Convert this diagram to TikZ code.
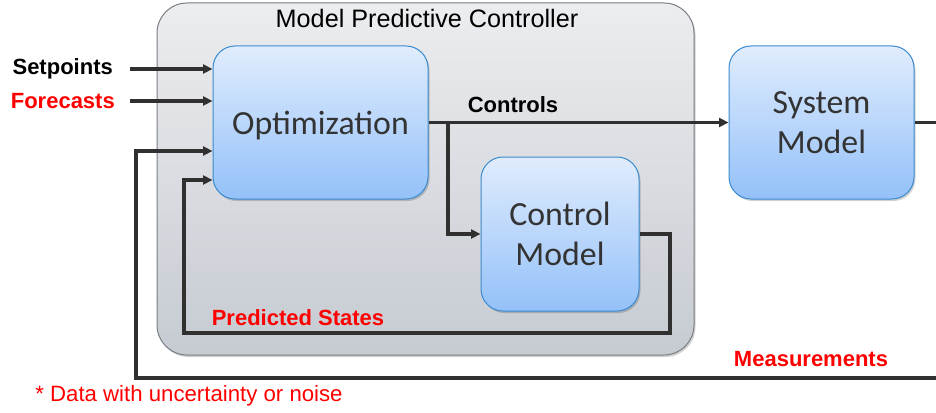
\documentclass[tikz,border=0pt]{standalone}
\usepackage{fontspec}
\setmainfont{Liberation Sans}
\newfontfamily\boxfont{Carlito}
\usetikzlibrary{arrows.meta,shadows}

\definecolor{bluetop}{HTML}{E0ECFD}
\definecolor{bluebot}{HTML}{94C1F9}
\definecolor{blueedge}{HTML}{3A8BD0}
\definecolor{graytop}{HTML}{ECEDEF}
\definecolor{graybot}{HTML}{C6CBD2}
\definecolor{grayedge}{HTML}{7A7D82}
\definecolor{wire}{HTML}{303030}
\definecolor{txtgray}{HTML}{333333}
\definecolor{labred}{HTML}{FF0000}

\tikzset{
  x=1pt, y=-1pt,
  block/.style={rectangle, rounded corners=22pt, draw=blueedge, line width=1pt,
    top color=bluetop, bottom color=bluebot, text=txtgray, align=center,
    font=\boxfont\fontsize{33.8}{40}\selectfont,
    drop shadow={shadow xshift=1.5pt, shadow yshift=-2pt, opacity=0.18, fill=black}},
  frame/.style={rectangle, rounded corners=30pt, draw=grayedge, line width=1pt,
    top color=graytop, bottom color=graybot,
    drop shadow={shadow xshift=1.5pt, shadow yshift=-2pt, opacity=0.18, fill=black}},
  wireline/.style={draw=wire, line width=3.2pt},
  arr/.style={wireline, -{Triangle[length=9.5pt,width=9pt]}},
  lab/.style={font=\bfseries\fontsize{22}{26}\selectfont, inner sep=0pt},
  note/.style={font=\fontsize{22.2}{26}\selectfont, inner sep=0pt},
}

\begin{document}
\begin{tikzpicture}
\useasboundingbox (0,0) rectangle (936,412);
\clip (0,0) rectangle (936,412);

% controller frame
\node[frame, minimum width=537pt, minimum height=352pt] (mpc) at (425.5,179) {};
\node[font=\fontsize{25.2}{30}\selectfont, inner sep=0pt, text=black] (title) at (427,18) {Model Predictive Controller};

% blocks
\node[block, text depth=0pt, minimum width=215pt, minimum height=153pt] (opt) at (320.5,122.5) {Optimization};
\node[block, minimum width=158pt, minimum height=154pt] (cm) at (560,234) {Control\\Model};
\node[block, minimum width=185pt, minimum height=153pt] (sm) at (821.5,122.5) {System\\Model};

% inputs
\node[lab, anchor=east, text=black] (sp) at (113,69) {Setpoints};
\node[lab, anchor=east, text=labred] (fc) at (115,101) {Forecasts};
\coordinate (spS) at (130,69);
\coordinate (fcS) at (130,101);
\draw[arr] (spS) -- (opt.west |- spS);
\draw[arr] (fcS) -- (opt.west |- fcS);

% controls
\draw[arr] (opt.east) -- (sm.west);
\coordinate (br) at (448,122.5);
\draw[arr] (br) |- (cm.west);
\node[lab, text=black] (ctl) at (513,105) {Controls};

% system output
\coordinate (outR) at (936,122.5);
\draw[wireline] (sm.east) -- (outR);

% predicted states loop
\coordinate (pR) at (670,333);
\coordinate (pL) at (184,333);
\coordinate (pIn) at (200,180);
\draw[arr] (cm.east) -| (pR) -- (pL) |- (opt.west |- pIn);
\node[lab, text=labred] (ps) at (298,318) {Predicted States};

% measurement feedback
\coordinate (mR) at (936,378);
\coordinate (mL) at (136,378);
\coordinate (mIn) at (200,151);
\draw[arr] (mR) -- (mL) |- (opt.west |- mIn);
\node[lab, text=labred] (meas) at (811,359) {Measurements};

% footnote
\node[note, text=labred] (fn) at (189,396) {* Data with uncertainty or noise};
\end{tikzpicture}
\end{document}
